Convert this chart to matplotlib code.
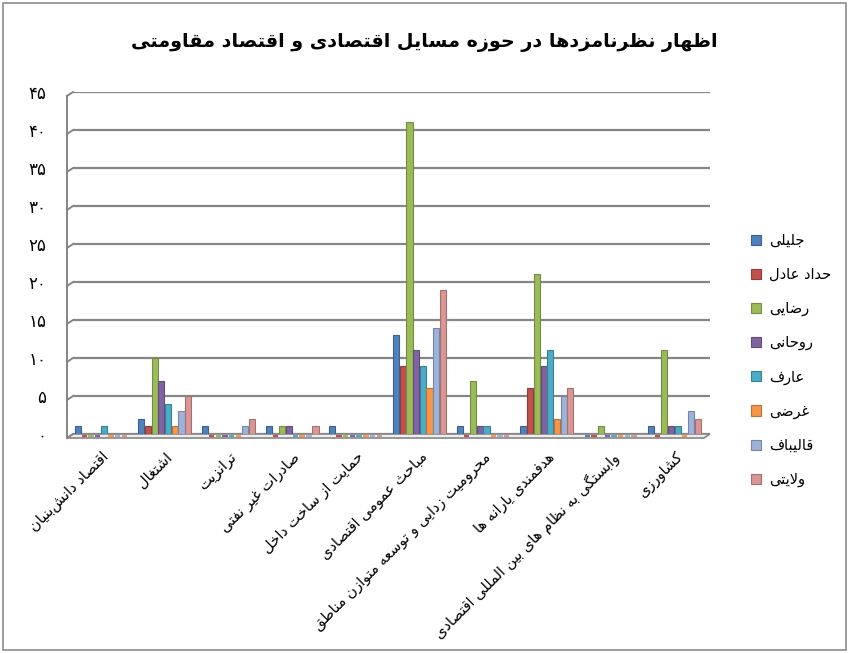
import numpy as np
import matplotlib
matplotlib.use("Agg")
import matplotlib.pyplot as plt
import matplotlib.transforms as mtransforms
from matplotlib.patches import Rectangle, Polygon
from matplotlib.lines import Line2D

plt.rcParams['font.family'] = ['DejaVu Sans']

###### DATA
title = "اظهار نظرنامزدها در حوزه مسایل اقتصادی و اقتصاد مقاومتی"

categories = [
    "اقتصاد دانش\u200cبنیان",
    "اشتغال",
    "ترانزیت",
    "صادرات غیر نفتی",
    "حمایت از ساخت داخل",
    "مباحث عمومی اقتصادی",
    "محرومیت زدایی و توسعه متوازن مناطق",
    "هدفمندی یارانه ها",
    "وابستگی به نظام های بین المللی اقتصادی",
    "کشاورزی",
]

series_names = ["جلیلی", "حداد عادل", "رضایی", "روحانی", "عارف", "غرضی", "قالیباف", "ولایتی"]

jalili   = [1, 2, 1, 1, 1, 13, 1, 1, 0, 1]
haddad   = [0, 1, 0, 0, 0, 9, 0, 6, 0, 0]
rezaei   = [0, 10, 0, 1, 0, 41, 7, 21, 1, 11]
rouhani  = [0, 7, 0, 1, 0, 11, 1, 9, 0, 1]
aref     = [1, 4, 0, 0, 0, 9, 1, 11, 0, 1]
gharazi  = [0, 1, 0, 0, 0, 6, 0, 2, 0, 0]
ghalibaf = [0, 3, 1, 0, 0, 14, 0, 5, 0, 3]
velayati = [0, 5, 2, 1, 0, 19, 0, 6, 0, 2]

y_ticks = [0, 5, 10, 15, 20, 25, 30, 35, 40, 45]

colors = ["#4F81BD", "#C0504D", "#9BBB59", "#8064A2", "#4BACC6", "#F79646", "#9DB3DA", "#D99694"]
###### END DATA


###### simple arabic/persian shaping (matplotlib has no text shaping)
_forms_start = [
    ('ء', 0xFE80, 1), ('آ', 0xFE81, 2), ('أ', 0xFE83, 2), ('ؤ', 0xFE85, 2),
    ('إ', 0xFE87, 2), ('ئ', 0xFE89, 4), ('ا', 0xFE8D, 2), ('ب', 0xFE8F, 4),
    ('ة', 0xFE93, 2), ('ت', 0xFE95, 4), ('ث', 0xFE99, 4), ('ج', 0xFE9D, 4),
    ('ح', 0xFEA1, 4), ('خ', 0xFEA5, 4), ('د', 0xFEA9, 2), ('ذ', 0xFEAB, 2),
    ('ر', 0xFEAD, 2), ('ز', 0xFEAF, 2), ('س', 0xFEB1, 4), ('ش', 0xFEB5, 4),
    ('ص', 0xFEB9, 4), ('ض', 0xFEBD, 4), ('ط', 0xFEC1, 4), ('ظ', 0xFEC5, 4),
    ('ع', 0xFEC9, 4), ('غ', 0xFECD, 4), ('ف', 0xFED1, 4), ('ق', 0xFED5, 4),
    ('ل', 0xFEDD, 4), ('م', 0xFEE1, 4), ('ن', 0xFEE5, 4), ('ه', 0xFEE9, 4),
    ('و', 0xFEED, 2), ('پ', 0xFB56, 4), ('چ', 0xFB7A, 4), ('ژ', 0xFB8A, 2),
    ('ک', 0xFB8E, 4), ('گ', 0xFB92, 4), ('ی', 0xFBFC, 4),
]
FORMS = {c: [chr(s + k) for k in range(n)] for c, s, n in _forms_start}
LAM_ALEF = {'ا': ('\uFEFB', '\uFEFC'), 'آ': ('\uFEF5', '\uFEF6')}


def shape(text):
    text = text.replace('ي', 'ی').replace('ك', 'ک')
    chars = list(text)
    out = []
    i = 0
    prev_joins = False  # previous letter connects to the left
    while i < len(chars):
        c = chars[i]
        if c not in FORMS:
            if c != '\u200c':
                out.append(c)
            prev_joins = False
            i += 1
            continue
        # lam-alef ligature
        if c == 'ل' and i + 1 < len(chars) and chars[i + 1] in LAM_ALEF:
            iso, fin = LAM_ALEF[chars[i + 1]]
            out.append(fin if prev_joins else iso)
            prev_joins = False
            i += 2
            continue
        f = FORMS[c]
        nxt = chars[i + 1] if i + 1 < len(chars) else None
        can_next = len(f) == 4 and nxt in FORMS
        if prev_joins and len(f) >= 2:
            g = f[3] if can_next else f[1]
        else:
            g = f[2] if can_next else f[0]
        out.append(g)
        prev_joins = can_next
        i += 1
    return ''.join(reversed(out))


def fa_digits(n):
    return ''.join(chr(0x06F0 + int(d)) for d in str(n))


series = [jalili, haddad, rezaei, rouhani, aref, gharazi, ghalibaf, velayati]

fig = plt.figure(figsize=(8.49, 6.53), dpi=100)
fig.patches.append(Rectangle((0.003, 0.004), 0.994, 0.992, transform=fig.transFigure,
                             fill=False, edgecolor="#8c8c8c", linewidth=1.2))

ax = fig.add_axes([73 / 849, 219 / 653, 637 / 849, 342 / 653])
ax.set_xlim(-0.44, 9.56)
ax.set_ylim(0, 45)

# back wall gridlines
for t in y_ticks:
    ax.axhline(t, color="#868686", linewidth=1.6, zorder=1)

# "3d" wall depth: vertical front axis + small diagonals
ytr = ax.get_yaxis_transform()
off = mtransforms.offset_copy(ytr, fig=fig, x=-6, y=-4, units='dots')
ax.plot([0, 0], [0, 45], transform=off, color="#868686", linewidth=1.4, clip_on=False)
for t in y_ticks:
    p0 = off.transform((0, t))
    p1 = ytr.transform((0, t))
    fig.add_artist(Line2D([p0[0], p1[0]], [p0[1], p1[1]], transform=None,
                          color="#868686", linewidth=1.4))

# floor (inside the axes so the bars sit on top of it)
b0 = ytr.transform((0, 0))
b1 = ytr.transform((1, 0))
ax.add_patch(Polygon([[b0[0] - 6, b0[1] - 4], [b1[0] - 6, b1[1] - 4], b1, b0],
                     closed=True, transform=None, facecolor="#eeeeee",
                     edgecolor="#868686", linewidth=1.2, zorder=2, clip_on=False))

x = np.arange(len(categories))
w = 0.105
for i, (vals, col) in enumerate(zip(series, colors)):
    edge = tuple(np.array(matplotlib.colors.to_rgb(col)) * 0.75)
    xs = x + (i - 3.5) * w
    ax.bar(xs, vals, width=w * 0.92, color=col, edgecolor=edge,
           linewidth=0.8, zorder=3, label=shape(series_names[i]))
    # zero values show as a flat dash lying on the floor
    zero = np.array(vals) == 0
    ax.hlines(np.zeros(zero.sum()) - 0.2, xs[zero] - w * 0.4, xs[zero] + w * 0.4,
              color=col, linewidth=1.5, zorder=4, clip_on=False)

for s in ax.spines.values():
    s.set_visible(False)

ax.set_yticks(y_ticks)
ax.set_yticklabels([fa_digits(t) for t in y_ticks], fontsize=12)
ax.tick_params(axis='y', length=0, pad=19)
ax.set_xticks(x)
ax.set_xticklabels([shape(c) for c in categories], rotation=45, ha='right',
                   va='top', rotation_mode='anchor', fontsize=10.5)
ax.tick_params(axis='x', length=0, pad=11)

fig.text(0.5, 1 - 42 / 653, shape(title), ha='center', va='center',
         fontsize=13.8, fontweight='bold')

leg = ax.legend(loc='center left', bbox_to_anchor=(738 / 849, 1 - 360 / 653),
                bbox_transform=fig.transFigure, frameon=False, fontsize=10.5,
                handlelength=0.7, handleheight=0.7, labelspacing=1.3, handletextpad=0.5)

fig.savefig("out.png", dpi=100)
